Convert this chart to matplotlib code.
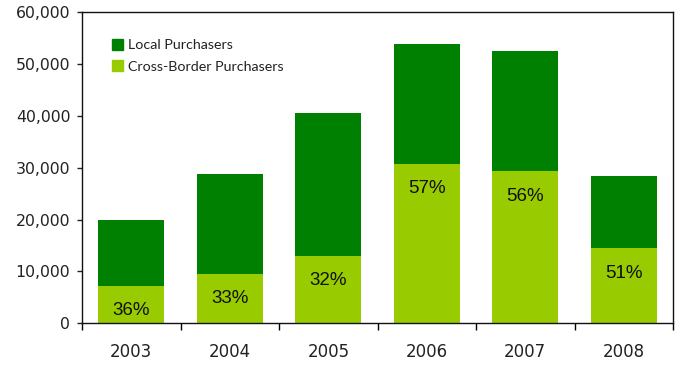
import matplotlib
matplotlib.use("Agg")
import matplotlib.pyplot as plt
import numpy as np
from matplotlib.patches import Patch

years = ["2003", "2004", "2005", "2006", "2007", "2008"]
totals = [20000, 28850, 40600, 53900, 52400, 28450]
cross_pct = [36, 33, 32, 57, 56, 51]

cross = [t * p / 100 for t, p in zip(totals, cross_pct)]
local = [t - c for t, c in zip(totals, cross)]

DARK = "#008000"
LIGHT = "#99CC00"

fig = plt.figure(figsize=(6.84, 3.71), dpi=100)
ax = fig.add_axes([0.12, 0.1286, 0.864, 0.839])

x = np.arange(len(years))
ax.bar(x, cross, width=0.67, color=LIGHT, zorder=2)
ax.bar(x, local, width=0.67, bottom=cross, color=DARK, zorder=2)

# percentage of cross-border buyers, just below the top of the light segment
for xi, c, p in zip(x, cross, cross_pct):
    ax.annotate(f"{p}%", (xi, c), xytext=(0, -18), textcoords="offset points",
                ha="center", va="center", fontsize=13.5, color="#111111",
                family="Liberation Sans")

ax.set_xlim(-0.5, len(years) - 0.5)
ax.set_ylim(0, 60000)
ax.set_yticks(np.arange(0, 60001, 10000))
ax.set_yticklabels([f"{v:,.0f}" for v in np.arange(0, 60001, 10000)])
ax.set_xticks(x)
ax.set_xticklabels(years)
ax.set_xticks(np.arange(-0.5, len(years)), minor=True)

ax.tick_params(axis="y", direction="out", length=3.5, width=1, pad=5, labelsize=11.3,
               colors="#222222")
ax.tick_params(axis="x", which="major", length=0, pad=14.5, labelsize=12, colors="#222222")
ax.tick_params(axis="x", which="minor", direction="out", length=5, width=1)

for s in ax.spines.values():
    s.set_linewidth(1.0)
    s.set_color("#111111")

handles = [Patch(color=DARK, label="Local Purchasers"),
           Patch(color=LIGHT, label="Cross-Border Purchasers")]
leg = ax.legend(handles=handles, loc="upper left", bbox_to_anchor=(0.041, 0.932),
                frameon=False, prop={"family": "Lato", "size": 10.3},
                handlelength=0.8, handleheight=0.8,
                handletextpad=0.35, labelspacing=0.62, borderaxespad=0)
for t in leg.get_texts():
    t.set_color("#222222")

fig.savefig("out.png", dpi=100)
